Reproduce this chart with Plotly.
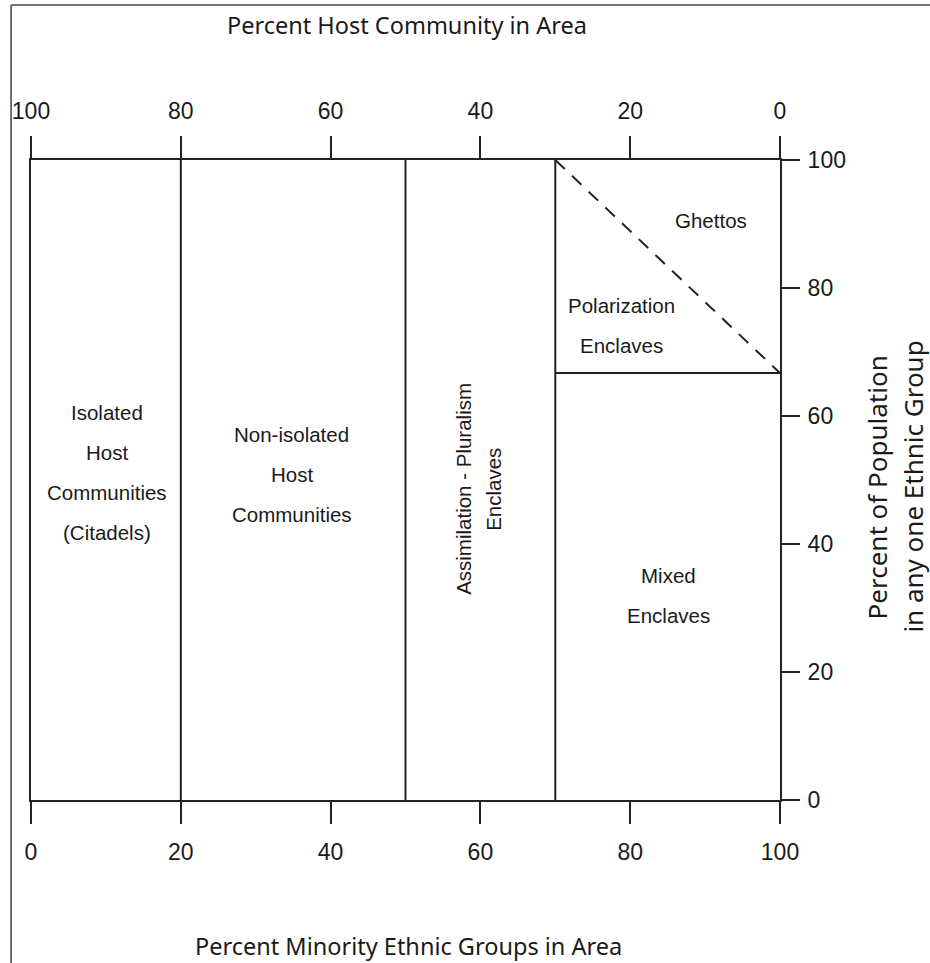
import plotly.graph_objects as go

# ---- data ----
x_ticks = [0, 20, 40, 60, 80, 100]            # percent minority ethnic groups
top_ticks = [100, 80, 60, 40, 20, 0]          # percent host community
y_ticks = [0, 20, 40, 60, 80, 100]            # percent of population in one group
dividers = [20, 50, 70]                        # vertical region boundaries
polar_x = [70, 100]                            # polarization enclave range
polar_threshold = 66.7                         # horizontal boundary
ghetto_line_x = [70, 100]
ghetto_line_y = [100, 66.7]

region_labels = [
    (["Isolated", "Host", "Communities", "(Citadels)"], 10.1, 51.1),
    (["Non-isolated", "Host", "Communities"], 34.8, 50.8),
    (["Ghettos"], 90.8, 90.6),
    (["Polarization", "Enclaves"], 78.9, 74.2),
    (["Mixed", "Enclaves"], 85.1, 32.0),
]
rotated_label = (["Assimilation - Pluralism", "Enclaves"], 59.8, 48.6)

top_title = "Percent Host Community in Area"
bottom_title = "Percent Minority Ethnic Groups in Area"
right_title = ["Percent of Population", "in any one Ethnic Group"]

LINE = "#222222"
TICKFONT = dict(family="Liberation Sans, Arial, sans-serif", size=23, color="#1a1a1a")
LABELFONT = dict(family="Liberation Sans, Arial, sans-serif", size=20.5, color="#1a1a1a")
TITLEFONT = dict(family="Noto Sans, Open Sans, sans-serif", size=23.5, color="#1a1a1a")

fig = go.Figure()

# vertical dividers
for d in dividers:
    fig.add_trace(go.Scatter(x=[d, d], y=[0, 100], mode="lines",
                             line=dict(color=LINE, width=2), hoverinfo="skip", showlegend=False))
# horizontal polarization boundary
fig.add_trace(go.Scatter(x=polar_x, y=[polar_threshold, polar_threshold], mode="lines",
                         line=dict(color=LINE, width=2), hoverinfo="skip", showlegend=False))
# dashed ghetto boundary
fig.add_trace(go.Scatter(x=ghetto_line_x, y=ghetto_line_y, mode="lines",
                         line=dict(color=LINE, width=2, dash="13px,10px"), hoverinfo="skip", showlegend=False))
# invisible trace for top axis
fig.add_trace(go.Scatter(x=top_ticks, y=[None] * len(top_ticks), xaxis="x2", mode="markers",
                         hoverinfo="skip", showlegend=False))

LINE_SP = 40
anns = []
for lines, cx, cy in region_labels:
    n = len(lines)
    for i, t in enumerate(lines):
        anns.append(dict(x=cx, y=cy, xref="x", yref="y", text=t, showarrow=False,
                         font=LABELFONT, xanchor="center", yanchor="middle",
                         yshift=((n - 1) / 2 - i) * LINE_SP))
lines, cx, cy = rotated_label
for i, t in enumerate(lines):
    anns.append(dict(x=cx, y=cy, xref="x", yref="y", text=t, showarrow=False,
                     font=LABELFONT, textangle=-90, xanchor="center", yanchor="middle",
                     xshift=(i - 0.5) * 30))

# titles
anns.append(dict(x=0.502, y=1.211, xref="paper", yref="paper", text=top_title, showarrow=False,
                 font=TITLEFONT, xanchor="center", yanchor="middle"))
anns.append(dict(x=0.504, y=-0.228, xref="paper", yref="paper", text=bottom_title, showarrow=False,
                 font=TITLEFONT, xanchor="center", yanchor="middle"))
for i, t in enumerate(right_title):
    anns.append(dict(x=1.130 + i * 0.047, y=0.489, xref="paper", yref="paper", text=t, showarrow=False,
                     font=dict(TITLEFONT, size=26), textangle=-90, xanchor="center", yanchor="middle"))

axis_common = dict(showgrid=False, zeroline=False, showline=True, linecolor=LINE, linewidth=2,
                   ticks="outside", tickcolor=LINE, tickwidth=2, tickfont=TICKFONT)

fig.update_layout(
    width=930, height=963,
    margin=dict(l=28, r=150, t=160, b=163),
    paper_bgcolor="white", plot_bgcolor="white",
    xaxis=dict(axis_common, range=[0, 100], tickvals=x_ticks, ticklen=22, side="bottom",
               ticklabelstandoff=8),
    xaxis2=dict(axis_common, range=[100, 0], tickvals=top_ticks, ticklen=22, side="top",
                overlaying="x", ticklabelstandoff=8),
    yaxis=dict(axis_common, range=[0, 100], tickvals=y_ticks, ticklen=18, side="right",
               mirror=True, ticklabelstandoff=3),
    annotations=anns,
    shapes=[
        dict(type="line", xref="paper", yref="paper", x0=-0.0266, x1=-0.0266, y0=1.242, y1=-0.26,
             line=dict(color="#444", width=1.5)),
        dict(type="line", xref="paper", yref="paper", x0=-0.0266, x1=1.21, y0=1.242, y1=1.242,
             line=dict(color="#444", width=1.5)),
    ],
)

fig.write_html("out.html", config={"displayModeBar": False},
               post_script="document.body.style.margin='0';document.body.style.overflow='hidden';")
